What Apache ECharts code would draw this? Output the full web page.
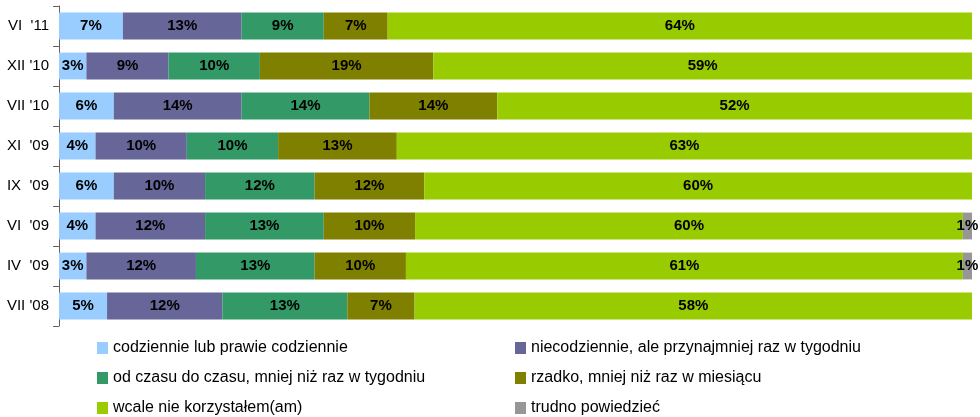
<!DOCTYPE html>
<html>
<head>
<meta charset="utf-8">
<script src="https://cdn.jsdelivr.net/npm/echarts@6/dist/echarts.min.js"></script>
<style>
  html, body { margin: 0; padding: 0; background: #fff; }
  #chart { width: 980px; height: 417px; }
</style>
</head>
<body>
<div id="chart"></div>
<script>
var categories = ["VI  '11", "XII '10", "VII '10", "XI  '09", "IX  '09", "VI  '09", "IV  '09", "VII '08"];

var seriesNames = [
    'codziennie lub prawie codziennie',
    'niecodziennie, ale przynajmniej raz w tygodniu',
    'od czasu do czasu, mniej niż raz w tygodniu',
    'rzadko, mniej niż raz w miesiącu',
    'wcale nie korzystałem(am)',
    'trudno powiedzieć'
];
var colors = ['#99CCFF', '#666699', '#339966', '#808000', '#99CC00', '#969696'];

var daily = [7, 3, 6, 4, 6, 4, 3, 5];
var weekly = [13, 9, 14, 10, 10, 12, 12, 12];
var sometimes = [9, 10, 14, 10, 12, 13, 13, 13];
var rarely = [7, 19, 14, 13, 12, 10, 10, 7];
var never = [64, 59, 52, 63, 60, 60, 61, 58];
var dontKnow = [0, 0, 0, 0, 0, 1, 1, 0];

var allValues = [daily, weekly, sometimes, rarely, never, dontKnow];

// bars are stretched to 100% per row, labels keep the raw percentages
var totals = categories.map(function (c, i) {
    var s = 0;
    allValues.forEach(function (arr) { s += arr[i]; });
    return s;
});

var font = "'Liberation Sans', Arial, sans-serif";

var series = allValues.map(function (arr, k) {
    return {
        name: seriesNames[k],
        type: 'bar',
        stack: 'all',
        barCategoryGap: '33%',
        itemStyle: { color: colors[k] },
        label: {
            show: true,
            position: 'inside',
            color: '#000',
            fontWeight: 'bold',
            fontSize: 15,
            fontFamily: font,
            formatter: function (p) {
                return p.data.raw > 0 ? p.data.raw + '%' : '';
            }
        },
        data: arr.map(function (v, i) {
            return { value: v / totals[i] * 100, raw: v };
        })
    };
});

var legendText = { color: '#000', fontSize: 16, fontFamily: font, lineHeight: 20 };

var option = {
    animation: false,
    color: colors,
    grid: { left: 59, right: 8, top: 6, bottom: 91, outerBoundsMode: 'none' },
    xAxis: {
        type: 'value',
        min: 0,
        max: 100,
        show: false
    },
    yAxis: {
        type: 'category',
        data: categories,
        inverse: true,
        axisLine: { show: true, lineStyle: { color: '#606060', width: 1 } },
        axisTick: { show: true, length: 6, lineStyle: { color: '#606060' } },
        axisLabel: {
            color: '#000',
            fontSize: 15,
            fontFamily: font,
            margin: 10
        }
    },
    legend: [
        {
            orient: 'vertical',
            left: 97,
            top: 338,
            height: 90,
            padding: 0,
            itemWidth: 11,
            itemHeight: 12,
            itemGap: 10,
            icon: 'rect',
            textStyle: legendText,
            data: [seriesNames[0], seriesNames[2], seriesNames[4]]
        },
        {
            orient: 'vertical',
            left: 515,
            top: 338,
            height: 90,
            padding: 0,
            itemWidth: 11,
            itemHeight: 12,
            itemGap: 10,
            icon: 'rect',
            textStyle: legendText,
            data: [seriesNames[1], seriesNames[3], seriesNames[5]]
        }
    ],
    series: series
};

var myChart = echarts.init(document.getElementById('chart'));
myChart.setOption(option);
</script>
</body>
</html>
